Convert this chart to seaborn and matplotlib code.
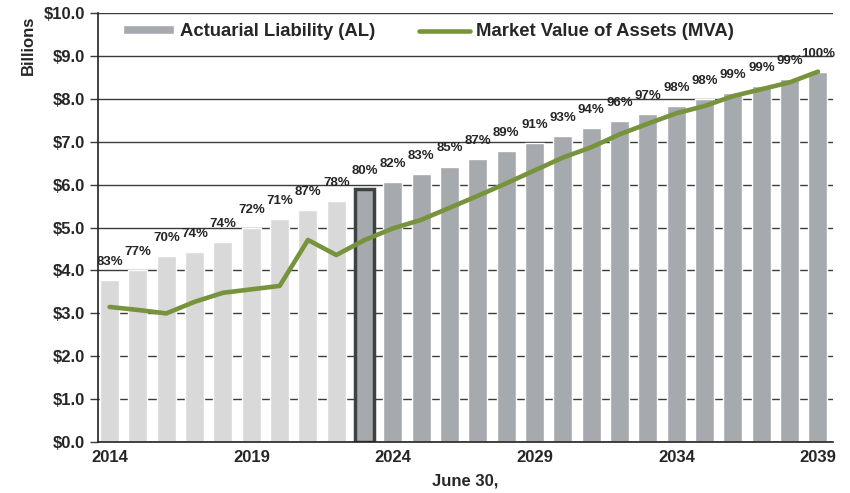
import numpy as np
import pandas as pd
import matplotlib.pyplot as plt
import seaborn as sns
from matplotlib.patches import Patch
from matplotlib.lines import Line2D

sns.set_style('white')
plt.rcParams['font.family'] = ['Liberation Sans', 'DejaVu Sans']

# =========================
# Data (billions, June 30)
# =========================
years = list(range(2014, 2040))
al = [3.78, 4.01, 4.34, 4.44, 4.67, 4.98, 5.20, 5.41, 5.62, 5.89,
      6.07, 6.24, 6.42, 6.60, 6.78, 6.96, 7.13, 7.31, 7.47, 7.65,
      7.82, 7.99, 8.14, 8.30, 8.46, 8.63]
mva = [3.15, 3.08, 3.00, 3.27, 3.48, 3.56, 3.64, 4.71, 4.36, 4.71,
       4.98, 5.18, 5.46, 5.74, 6.03, 6.33, 6.63, 6.87, 7.17, 7.42,
       7.66, 7.83, 8.06, 8.22, 8.38, 8.63]
funded = [83, 77, 70, 74, 74, 72, 71, 87, 78, 80,
          82, 83, 85, 87, 89, 91, 93, 94, 96, 97,
          98, 98, 99, 99, 99, 100]
tick_years = [2014, 2019, 2024, 2029, 2034, 2039]
current_year = 2023

hist_color = '#d9d9d9'
proj_color = '#a6a9ad'
green = '#77933c'

df = pd.DataFrame({'year': years, 'al': al, 'mva': mva})
palette = {y: (hist_color if y < current_year else proj_color) for y in years}

# =========================
# Plot
# =========================
fig, ax = plt.subplots(figsize=(8.5, 4.93), dpi=100)
fig.subplots_adjust(left=0.115, right=0.98, bottom=0.103, top=0.974)

sns.barplot(data=df, x='year', y='al', hue='year', palette=palette,
            legend=False, width=0.67, saturation=1, ax=ax, zorder=2)

# current valuation year gets a dark outline
cur = ax.patches[years.index(current_year)]
cur.set_edgecolor('#3d4341')
cur.set_linewidth(2.5)

sns.lineplot(x=np.arange(len(years)), y=mva, color=green, linewidth=3.3,
             ax=ax, zorder=3)

for i, (v, f) in enumerate(zip(al, funded)):
    ax.annotate(f'{f}%', (i, v), xytext=(0, 13), textcoords='offset points',
                ha='center', va='center', fontsize=9.5, fontweight='bold',
                zorder=4)

ax.set_ylim(0, 10)
ax.set_yticks(range(0, 11))
ax.set_yticklabels([f'${v:.1f}' for v in range(0, 11)],
                   fontsize=12, fontweight='bold')
ax.yaxis.grid(True, color='#3a3a3a', linewidth=1.0)
ax.set_axisbelow(True)
ax.tick_params(axis='y', left=True, length=6, width=1, color='#3a3a3a', pad=3)

ax.set_xlim(-0.42, 25.53)
ax.set_xticks([years.index(y) for y in tick_years])
ax.set_xticklabels([str(y) for y in tick_years], fontsize=12,
                   fontweight='bold')
ax.tick_params(axis='x', bottom=False, pad=2)
ax.set_xlabel('June 30,', fontsize=12, fontweight='bold', labelpad=6)
ax.set_ylabel('')

for s in ['top', 'right']:
    ax.spines[s].set_visible(False)
for s in ['left', 'bottom']:
    ax.spines[s].set_color('#222222')
    ax.spines[s].set_linewidth(1.2)

fig.text(0.033, 0.909, 'Billions', rotation=90, ha='center', va='center',
         fontsize=12, fontweight='bold')

handles = [
    Patch(facecolor=proj_color, label='Actuarial Liability (AL)'),
    Line2D([0], [0], color=green, lw=3.3, label='Market Value of Assets (MVA)'),
]
ax.legend(handles=handles, ncol=2, loc='center left',
          bbox_to_anchor=(0.034, 0.956), frameon=False,
          prop={'weight': 'bold', 'size': 13.3}, handlelength=2.76,
          handleheight=0.4, handletextpad=0.33, columnspacing=2.38,
          borderpad=0, borderaxespad=0)

plt.savefig('out.png', dpi=100)
